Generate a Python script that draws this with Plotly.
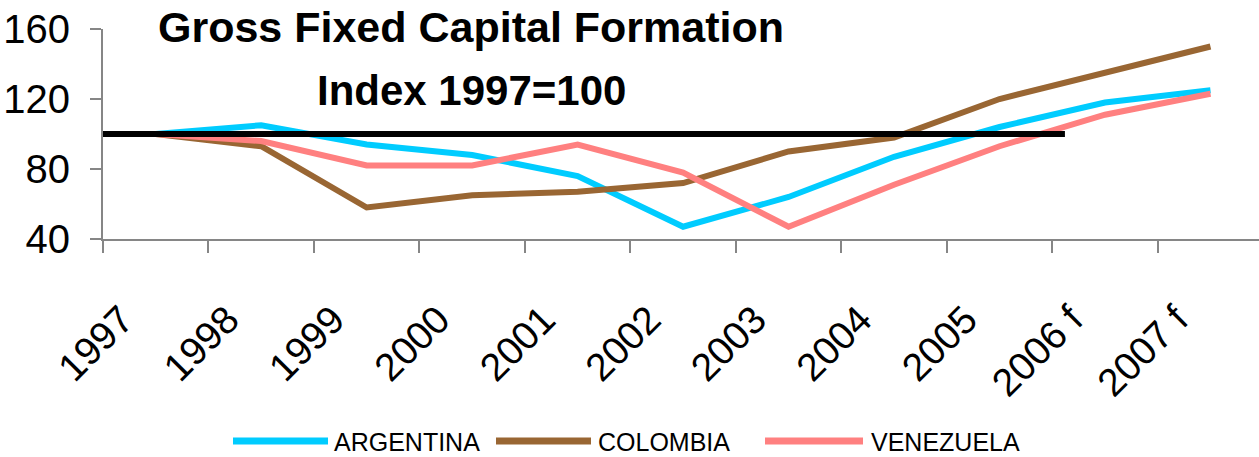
import plotly.graph_objects as go

# Gross fixed capital formation, index with 1997 = 100
YEARS = ["1997", "1998", "1999", "2000", "2001", "2002",
         "2003", "2004", "2005", "2006 f", "2007 f"]
ARGENTINA = [100, 105, 94, 88, 76, 47, 64, 87, 104, 118, 125]
COLOMBIA = [100, 93, 58, 65, 67, 72, 90, 98, 120, 135, 150]
VENEZUELA = [100, 96, 82, 82, 94, 78, 47, 71, 93, 111, 123]
BASE_INDEX = 100
Y_TICKS = [40, 80, 120, 160]

SERIES = [
    ("ARGENTINA", ARGENTINA, "#00CCFF"),
    ("COLOMBIA", COLOMBIA, "#996633"),
    ("VENEZUELA", VENEZUELA, "#FF8080"),
]

W, H = 1259, 457
L, T, PLOT_H = 103, 29, 210
PLOT_W = W - L
FONT = "Liberation Sans, Arial, sans-serif"
AXIS_GREY = "#868686"

positions = list(range(len(YEARS)))
x_lo, x_hi = -0.5, 10.46

fig = go.Figure()
for name, values, color in SERIES:
    fig.add_trace(go.Scatter(
        x=positions, y=values, name=name, mode="lines",
        line=dict(color=color, width=6),
        showlegend=False,
    ))


def px_to_paper_x(px):
    return (px - L) / PLOT_W


def px_to_paper_y(py):
    return (T + PLOT_H - py) / PLOT_H


shapes = [
    # reference line at the base index
    dict(type="line", xref="x", yref="y", x0=-0.5, x1=8.62,
         y0=BASE_INDEX, y1=BASE_INDEX, line=dict(color="black", width=6),
         layer="above"),
]
annotations = [
    dict(text="<b>Gross Fixed Capital Formation</b>", xref="paper", yref="paper",
         x=px_to_paper_x(471), y=px_to_paper_y(27), xanchor="center", yanchor="middle",
         showarrow=False, font=dict(family=FONT, size=43, color="black")),
    dict(text="<b>Index 1997=100</b>", xref="paper", yref="paper",
         x=px_to_paper_x(471), y=px_to_paper_y(90), xanchor="center", yanchor="middle",
         showarrow=False, font=dict(family=FONT, size=42, color="black")),
]

# legend row: long line swatch followed by the series name
legend_items = [(233, 328, 332), (496, 591, 596), (765, 863, 869)]
for (name, _, color), (lx0, lx1, tx) in zip(SERIES, legend_items):
    shapes.append(dict(type="line", xref="paper", yref="paper",
                       x0=px_to_paper_x(lx0), x1=px_to_paper_x(lx1),
                       y0=px_to_paper_y(441), y1=px_to_paper_y(441),
                       line=dict(color=color, width=7)))
    annotations.append(dict(text=name, xref="paper", yref="paper",
                            x=px_to_paper_x(tx), y=px_to_paper_y(442),
                            xanchor="left", yanchor="middle", showarrow=False,
                            font=dict(family=FONT, size=25, color="black")))

fig.update_layout(
    width=W, height=H,
    margin=dict(l=L, r=W - L - PLOT_W, t=T, b=H - T - PLOT_H, pad=0),
    paper_bgcolor="white", plot_bgcolor="white",
    font=dict(family=FONT, color="black"),
    shapes=shapes, annotations=annotations,
    xaxis=dict(
        range=[x_lo, x_hi],
        tickmode="array",
        tickvals=[p - 0.32 for p in positions],
        ticktext=YEARS,
        ticks="", tickangle=-45,
        tickfont=dict(family=FONT, size=39, color="black"),
        showgrid=False, zeroline=False,
        showline=True, linecolor=AXIS_GREY, linewidth=2,
        minor=dict(tickmode="array", tickvals=[p - 0.5 for p in positions],
                   ticks="outside", ticklen=12, tickcolor=AXIS_GREY, tickwidth=1.5,
                   showgrid=False),
        ticklabelstandoff=40,
    ),
    yaxis=dict(
        range=[40, 160],
        tickmode="array", tickvals=Y_TICKS,
        ticks="outside", ticklen=11, tickcolor=AXIS_GREY, tickwidth=1.5,
        tickfont=dict(family=FONT, size=40, color="black"),
        showgrid=False, zeroline=False,
        showline=True, linecolor=AXIS_GREY, linewidth=2,
        ticklabelstandoff=12,
    ),
)

fig.write_html("out.html")
